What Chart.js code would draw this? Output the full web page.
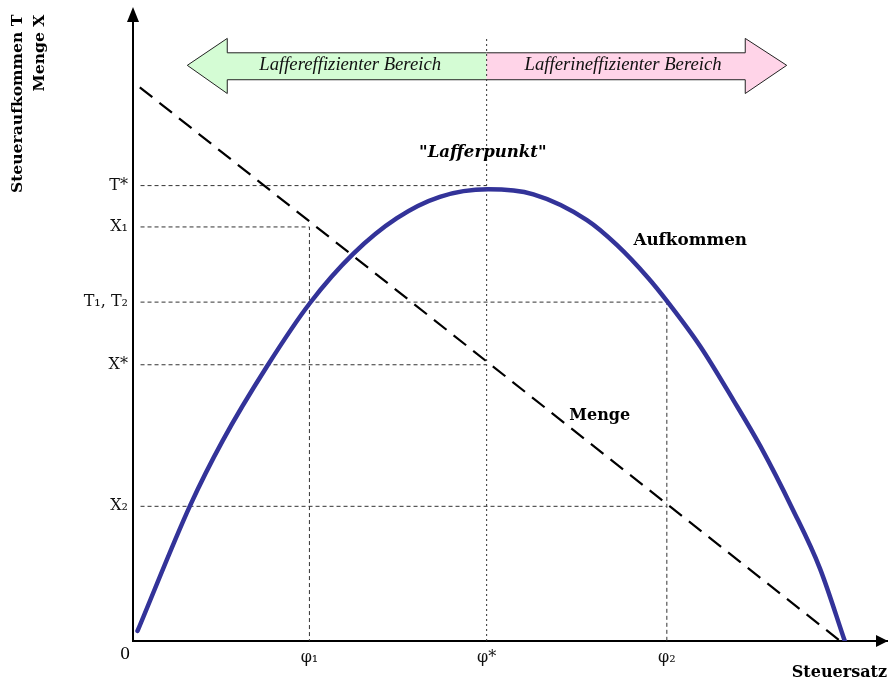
<!DOCTYPE html>
<html lang="de">
<head>
<meta charset="UTF-8">
<title>Laffer-Kurve</title>
<style>
    body { margin: 0; background: #fff; }
    #wrap { width: 888px; height: 682px; position: relative; }
</style>
</head>
<body>
<div id="wrap"><canvas id="laffer"></canvas></div>

<script src="https://cdn.jsdelivr.net/npm/chart.js"></script>
<script>
// Steuersatz (x) and Steueraufkommen / Menge (y), 0..100 scale
const aufkommenX = [0.6, 7.6, 11.9, 17.8, 23.5, 29.2, 35.0, 40.7, 47.1, 53.1, 60.2, 64.2, 68.3, 70.8, 75.2, 79.6, 83.2, 87.5, 91.1, 94.4];
const aufkommenY = [1.6, 21.7, 32.0, 43.9, 54.0, 61.8, 67.5, 70.9, 72.1, 71.3, 67.2, 63.2, 58.0, 54.3, 47.1, 38.5, 31.1, 21.0, 11.6, 0];
const mengeX = [0.9, 93.8];
const mengeY = [88.4, 0];

// axis marks
const phiValues = [23.4, 46.9, 70.8];
const phiLabels = ['φ₁', 'φ*', 'φ₂'];
const levelValues = [72.7, 66.1, 54.1, 44.1, 21.5];
const levelLabels = ['T*', 'X₁', 'T₁, T₂', 'X*', 'X₂'];

const toPoints = (xs, ys) => xs.map((v, i) => ({x: v, y: ys[i]}));

// helper lines: level -> phi it belongs to
const guideStart = 1;
const guidePhi = [1, 0, 2, 1, 2];
const guideDown = [false, true, true, false, false];
const guideSets = levelValues.map((lv, i) => {
    const p = phiValues[guidePhi[i]];
    const pts = [{x: guideStart, y: lv}, {x: p, y: lv}];
    if (guideDown[i]) pts.push({x: p, y: 0});
    return {
        data: pts, borderColor: '#333', borderWidth: 1, borderDash: [4, 3],
        pointRadius: 0, tension: 0, order: 5
    };
});

const phiStarTop = 96.5;

// region arrows (in data units)
const region = {
    tipL: 7.2, baseL: 12.5, mid: phiValues[1], baseR: 81.2, tipR: 86.7,
    headTop: 96.2, shaftTop: 93.9, center: 91.9, shaftBot: 89.6, headBot: 87.4
};

const serif = '"DejaVu Serif", serif';

function drawRegionArrow(ctx, px, py, dir, fill) {
    const r = region;
    const tip = px(dir < 0 ? r.tipL : r.tipR);
    const base = px(dir < 0 ? r.baseL : r.baseR);
    const mid = px(r.mid);
    ctx.beginPath();
    ctx.moveTo(mid, py(r.shaftTop));
    ctx.lineTo(base, py(r.shaftTop));
    ctx.lineTo(base, py(r.headTop));
    ctx.lineTo(tip, py(r.center));
    ctx.lineTo(base, py(r.headBot));
    ctx.lineTo(base, py(r.shaftBot));
    ctx.lineTo(mid, py(r.shaftBot));
    ctx.fillStyle = fill;
    ctx.fill();
    ctx.strokeStyle = '#222';
    ctx.lineWidth = 1;
    ctx.stroke();
}

const laffer = {
    id: 'laffer',
    beforeDatasetsDraw(chart) {
        const {ctx, scales: {x, y}} = chart;
        const px = v => x.getPixelForValue(v), py = v => y.getPixelForValue(v);
        ctx.save();
        drawRegionArrow(ctx, px, py, -1, 'rgb(212,252,212)');
        drawRegionArrow(ctx, px, py, 1, 'rgb(255,212,232)');
        ctx.fillStyle = '#111';
        ctx.font = 'italic 18.7px "Liberation Serif", serif';
        ctx.textAlign = 'center';
        ctx.textBaseline = 'middle';
        ctx.fillText('Laffereffizienter Bereich', px(28.8), py(region.center));
        ctx.fillText('Lafferineffizienter Bereich', px(65.0), py(region.center));
        ctx.restore();
    },
    afterDraw(chart) {
        const {ctx, scales: {x, y}} = chart;
        const px = v => x.getPixelForValue(v), py = v => y.getPixelForValue(v);
        const x0 = px(0), y0 = py(0);
        ctx.save();
        ctx.fillStyle = '#000';
        // y arrow head
        ctx.beginPath();
        ctx.moveTo(x0, 7);
        ctx.lineTo(x0 - 6, 22);
        ctx.lineTo(x0 + 6, 22);
        ctx.closePath();
        ctx.fill();
        // x arrow head
        ctx.beginPath();
        ctx.moveTo(888, y0);
        ctx.lineTo(876, y0 - 6);
        ctx.lineTo(876, y0 + 6);
        ctx.closePath();
        ctx.fill();

        ctx.textAlign = 'center';
        ctx.textBaseline = 'middle';
        ctx.font = '16px ' + serif;
        ctx.fillText('0', x0 - 8, y0 + 14);

        ctx.font = 'italic bold 16.6px ' + serif;
        ctx.fillText('"Lafferpunkt"', px(46.4), py(77.9));
        ctx.font = 'bold 16.8px ' + serif;
        ctx.fillText('Aufkommen', px(73.9), py(63.9));
        ctx.font = 'bold 16px ' + serif;
        ctx.fillText('Menge', px(61.9), py(36.0));
        ctx.restore();
    }
};

new Chart(document.getElementById('laffer'), {
    type: 'line',
    data: {
        datasets: [
            {
                label: 'Aufkommen',
                data: toPoints(aufkommenX, aufkommenY),
                borderColor: '#333399',
                borderWidth: 4.5,
                borderCapStyle: 'round',
                cubicInterpolationMode: 'monotone',
                pointRadius: 0,
                order: 1
            },
            {
                label: 'Menge',
                data: toPoints(mengeX, mengeY),
                borderColor: '#000',
                borderWidth: 2.2,
                borderDash: [16, 9],
                pointRadius: 0,
                tension: 0,
                order: 2
            },
            {
                label: 'phi*',
                data: [{x: phiValues[1], y: 0}, {x: phiValues[1], y: phiStarTop}],
                borderColor: '#333',
                borderWidth: 1,
                borderDash: [2, 3],
                pointRadius: 0,
                tension: 0,
                order: 6
            },
            ...guideSets
        ]
    },
    options: {
        responsive: true,
        maintainAspectRatio: false,
        animation: false,
        layout: { padding: { left: 0, top: 13, right: 1, bottom: 0 } },
        plugins: { legend: { display: false }, tooltip: { enabled: false } },
        scales: {
            x: {
                type: 'linear', min: 0, max: 100,
                grid: { display: false, drawTicks: false },
                border: { display: true, color: '#000', width: 2 },
                afterBuildTicks: s => { s.ticks = phiValues.map(v => ({value: v})); },
                afterFit: s => { s.height = 41; },
                ticks: {
                    autoSkip: false, maxRotation: 0, padding: 7, color: '#111',
                    font: { family: serif, size: 16 },
                    callback: v => phiLabels[phiValues.indexOf(v)]
                },
                title: {
                    display: true, text: 'Steuersatz', align: 'end', color: '#000',
                    font: { family: serif, size: 16, weight: 'bold', lineHeight: 1.2 },
                    padding: { top: 0, bottom: 0 }
                }
            },
            y: {
                type: 'linear', min: 0, max: 100,
                grid: { display: false, drawTicks: false },
                border: { display: true, color: '#000', width: 2 },
                afterBuildTicks: s => { s.ticks = levelValues.map(v => ({value: v})); },
                afterFit: s => { s.width = 133; },
                ticks: {
                    autoSkip: false, padding: 5, color: '#111',
                    font: { family: serif, size: 16 },
                    callback: v => levelLabels[levelValues.indexOf(v)]
                },
                title: {
                    display: true, text: ['Steueraufkommen T', 'Menge X'], align: 'end', color: '#000',
                    font: { family: serif, size: 15.6, weight: 'bold', lineHeight: 1.4 },
                    padding: { top: 7, bottom: 0 }
                }
            }
        }
    },
    plugins: [laffer]
});
</script>
</body>
</html>
